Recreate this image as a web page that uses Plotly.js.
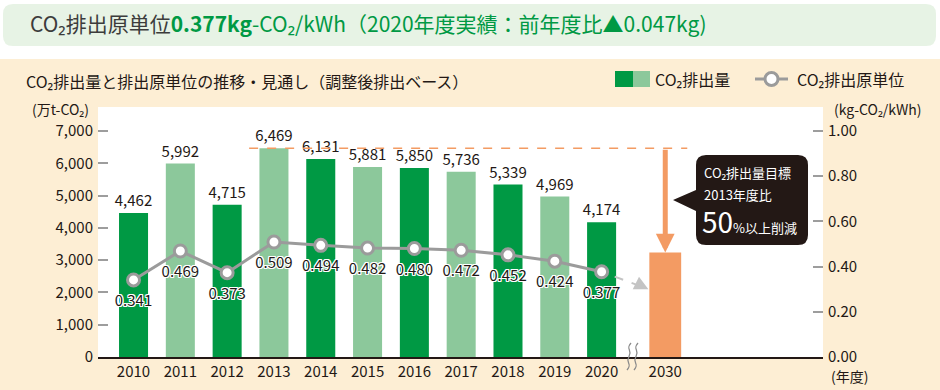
<!DOCTYPE html>
<html><head><meta charset="utf-8">
<script src="https://cdn.plot.ly/plotly-3.0.1.min.js"></script>
<style>html,body{margin:0;padding:0;background:#fff}#chart{width:940px;height:390px}</style>
</head><body><div id="chart"></div>
<script>
// ---- data ----
const years = ['2010','2011','2012','2013','2014','2015','2016','2017','2018','2019','2020'];
const emissions = [4462,5992,4715,6469,6131,5881,5850,5736,5339,4969,4174];
const intensity = [0.341,0.469,0.373,0.509,0.494,0.482,0.480,0.472,0.452,0.424,0.377];
const targetYear = '2030';
const target2030 = 3235;
const baseYearIndex = 3; // 2013
const leftTicks = [0,1000,2000,3000,4000,5000,6000,7000];
const rightTicks = [0,0.2,0.4,0.6,0.8,1.0];

// ---- geometry helpers ----
const L=98, R=823, T=107, B=357;
const px = x => (x-L)/(R-L);
const py = y => (B-y)/(B-T);
const FONT = "'Noto Sans CJK JP','Noto Sans',sans-serif";
const DARK = '#231815';
const GREEN = '#009944', LGREEN = '#8cc89b', ORANGE = '#f39b63', GRAY = '#9b9b9b';

const xpos = years.map((y,i)=>i);
const x2030 = 10 + 1.36;

function rrect(x0,y0,x1,y1,r){
  const P=(x,y)=>px(x)+','+py(y);
  return 'M'+P(x0+r,y0)+' L'+P(x1-r,y0)+' Q'+P(x1,y0)+' '+P(x1,y0+r)+
         ' L'+P(x1,y1-r)+' Q'+P(x1,y1)+' '+P(x1-r,y1)+' L'+P(x0+r,y1)+
         ' Q'+P(x0,y1)+' '+P(x0,y1-r)+' L'+P(x0,y0+r)+' Q'+P(x0,y0)+' '+P(x0+r,y0)+' Z';
}
function callout(x0,y0,x1,y1,r,tx,ty,pa,pb){
  const P=(x,y)=>px(x)+','+py(y);
  return 'M'+P(x0+r,y0)+' L'+P(x1-r,y0)+' Q'+P(x1,y0)+' '+P(x1,y0+r)+
         ' L'+P(x1,y1-r)+' Q'+P(x1,y1)+' '+P(x1-r,y1)+' L'+P(x0+r,y1)+
         ' Q'+P(x0,y1)+' '+P(x0,y1-r)+' L'+P(x0,pb)+' L'+P(tx,ty)+' L'+P(x0,pa)+
         ' L'+P(x0,y0+r)+' Q'+P(x0,y0)+' '+P(x0+r,y0)+' Z';
}
function wave(x,y0,y1){
  const P=(a,b)=>px(a)+','+py(b);
  const h=(y1-y0)/4;
  return 'M'+P(x+2,y0)+' C'+P(x-4,y0+h)+' '+P(x+4,y0+h)+' '+P(x,y0+2*h)+
         ' C'+P(x-4,y0+3*h)+' '+P(x+4,y0+3*h)+' '+P(x-2,y1);
}

const halo = 'white 1px 1px 0px, white -1px -1px 0px, white 1px -1px 0px, white -1px 1px 0px, white 0px 1px 0px, white 0px -1px 0px, white 1px 0px 0px, white -1px 0px 0px';

const traces = [
  {type:'bar', x:xpos, y:emissions, width:0.62,
   marker:{color:emissions.map((v,i)=>i%2===0?GREEN:LGREEN), line:{width:0}},
   text:emissions.map(v=>v.toLocaleString('en-US')), textposition:'outside', constraintext:'none',
   textfont:{family:FONT,size:15,color:DARK}, cliponaxis:false, hoverinfo:'skip'},
  {type:'bar', x:[x2030], y:[target2030], width:0.68,
   marker:{color:ORANGE, line:{width:0}}, hoverinfo:'skip'},
  {type:'scatter', mode:'lines+markers', x:xpos, y:intensity, yaxis:'y2',
   line:{color:GRAY,width:3},
   marker:{symbol:'circle',size:12,color:'#fff',line:{color:GRAY,width:3}},
   cliponaxis:false, hoverinfo:'skip'},
  {type:'scatter', mode:'markers+text', x:xpos, y:intensity, yaxis:'y2',
   marker:{size:22,color:'rgba(0,0,0,0)',line:{width:0}},
   text:intensity.map(v=>v.toFixed(3)), textposition:'bottom center',
   textfont:{family:FONT,size:15,color:DARK,shadow:halo}, cliponaxis:false, hoverinfo:'skip'}
];

const lastI = intensity.length-1;
const gEndX = x2030-0.36, gEndY = 0.30;
const gStartX = lastI+0.28, gStartY = intensity[lastI] + (gEndY-intensity[lastI])*0.28/(gEndX-lastI);

const shapes = [
  {type:'rect',xref:'paper',yref:'paper',x0:px(0),x1:px(940),y0:py(59),y1:py(0),fillcolor:'#fff',line:{width:0},layer:'below'},
  {type:'path',xref:'paper',yref:'paper',path:rrect(3,4,936,46,10),fillcolor:'#e7f3e5',line:{width:0},layer:'below'},
  // orange dashed reference line
  {type:'line',xref:'x',yref:'y',x0:baseYearIndex-0.53,x1:x2030+0.47,y0:emissions[baseYearIndex],y1:emissions[baseYearIndex],
   line:{color:ORANGE,width:1.5,dash:'dash'}},
  // gray dashed arrow line
  {type:'line',xref:'x',yref:'y2',x0:gStartX,y0:gStartY,x1:gEndX,y1:gEndY,line:{color:'#c4c4c4',width:2,dash:'dash'}},
  // callout
  {type:'path',xref:'paper',yref:'paper',path:callout(696,155,808,245,10,673,200,190,211),fillcolor:DARK,line:{width:0}},
  // break symbol
  {type:'path',xref:'paper',yref:'paper',path:wave(629,343,370),line:{color:'#8a8a8a',width:1.3}},
  {type:'path',xref:'paper',yref:'paper',path:wave(636,343,370),line:{color:'#8a8a8a',width:1.3}},
  // legend
  {type:'rect',xref:'paper',yref:'paper',x0:px(615),x1:px(633),y0:py(87),y1:py(71),fillcolor:GREEN,line:{width:0}},
  {type:'rect',xref:'paper',yref:'paper',x0:px(633),x1:px(650),y0:py(87),y1:py(71),fillcolor:LGREEN,line:{width:0}},
  {type:'line',xref:'paper',yref:'paper',x0:px(755),x1:px(788),y0:py(79),y1:py(79),line:{color:GRAY,width:3}},
  {type:'circle',xref:'paper',yref:'paper',x0:px(765),x1:px(778),y0:py(85.5),y1:py(72.5),fillcolor:'#fff',line:{color:GRAY,width:3}}
];

const ann = (x,y,text,opt={}) => Object.assign({xref:'paper',yref:'paper',x:px(x),y:py(y),text:text,showarrow:false,
  xanchor:'left',yanchor:'middle',font:{family:FONT,size:15,color:DARK}},opt);

const annotations = [
  ann(28,23,'<span style="color:#3c3c3c">CO₂排出原単位</span><b>0.377kg</b>-CO₂/kWh（2020年度実績：前年度比▲0.047kg)',
      {font:{family:FONT,size:21,color:'#009944'}}),
  ann(24,81,'CO₂排出量と排出原単位の推移・見通し（調整後排出ベース）',{font:{family:FONT,size:16,color:DARK}}),
  ann(653,79,'CO₂排出量',{font:{family:FONT,size:16,color:DARK}}),
  ann(795,79,'CO₂排出原単位',{font:{family:FONT,size:16,color:DARK}}),
  ann(91,108.5,'(万t-CO₂)',{xanchor:'right',font:{family:FONT,size:14,color:DARK}}),
  ann(832,108.5,'(kg-CO₂/kWh)',{font:{family:FONT,size:14,color:DARK}}),
  ann(829,376,'(年度)',{font:{family:FONT,size:14,color:DARK}}),
  // callout text
  ann(702,172,'CO₂排出量目標',{font:{family:FONT,size:13,color:'#fff'}}),
  ann(702,194,'2013年度比',{font:{family:FONT,size:13,color:'#fff'}}),
  ann(700,221,'<span style="font-size:28px">50</span>%以上削減',{font:{family:FONT,size:13,color:'#fff'}}),
  // orange arrow
  {xref:'x',yref:'y',axref:'x',ayref:'y',x:x2030,y:target2030,ax:x2030,ay:emissions[baseYearIndex],
   showarrow:true,arrowhead:2,arrowsize:0.75,arrowwidth:5,arrowcolor:ORANGE,text:'',standoff:0},
  // gray arrowhead
  {xref:'x',yref:'y2',x:gEndX,y:gEndY,ax:-12,ay:-6,showarrow:true,arrowhead:2,arrowsize:1.4,arrowwidth:2,arrowcolor:'#c4c4c4',text:''}
];

const layout = {
  width:940,height:390,margin:{l:L,r:940-R,t:T,b:390-B,pad:0},
  paper_bgcolor:'#fdeed4',plot_bgcolor:'#fff',showlegend:false,barmode:'overlay',
  font:{family:FONT,size:15,color:DARK},
  xaxis:{range:[-0.759,14.73],tickvals:xpos.concat([x2030]),ticktext:years.concat([targetYear]),
    ticks:'',showgrid:false,zeroline:false,showline:true,linecolor:DARK,linewidth:2,
    tickfont:{family:FONT,size:15,color:DARK},fixedrange:true},
  yaxis:{range:[0,7743],tickvals:leftTicks,tickformat:',',ticks:'inside',ticklen:10,tickwidth:2,tickcolor:'#9d9d9d',
    showgrid:false,zeroline:false,showline:false,tickfont:{family:FONT,size:15,color:DARK},ticklabelstandoff:4},
  yaxis2:{overlaying:'y',side:'right',range:[0,1.1061],tickvals:rightTicks,tickformat:'.2f',ticks:'inside',ticklen:10,tickwidth:2,
    tickcolor:'#9d9d9d',showgrid:false,zeroline:false,showline:false,tickfont:{family:FONT,size:15,color:DARK},ticklabelstandoff:4},
  shapes:shapes, annotations:annotations
};
Plotly.newPlot('chart',traces,layout,{staticPlot:true});
</script></body></html>
